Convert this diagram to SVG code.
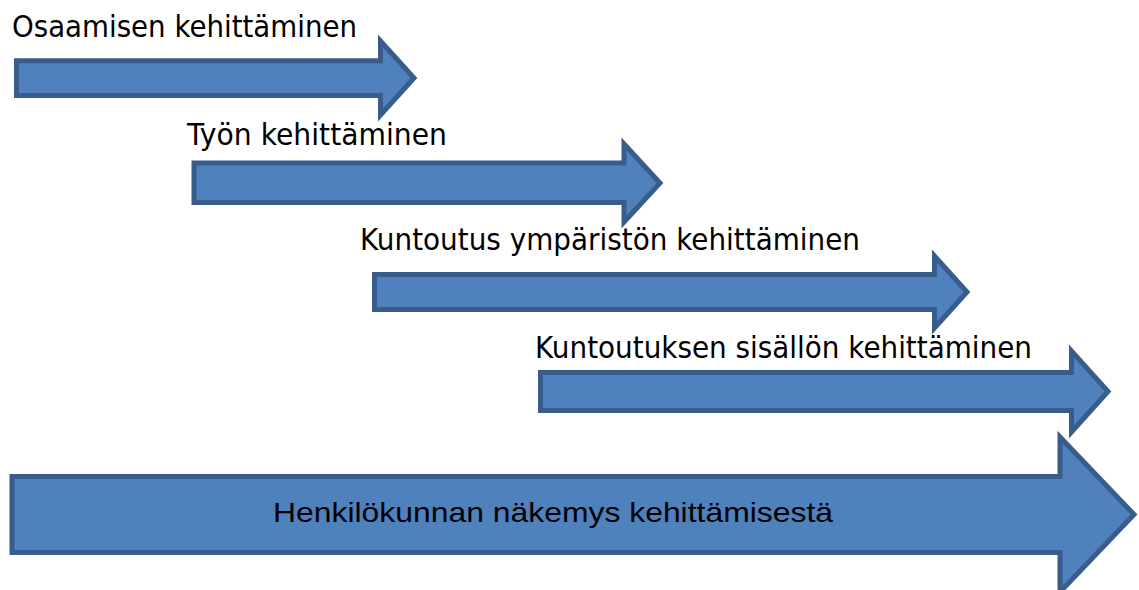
<svg xmlns="http://www.w3.org/2000/svg" width="1139" height="590" viewBox="0 0 1139 590">
<style>
.arrow{fill:#4F81BD;stroke:#385D8A;stroke-width:5;stroke-linejoin:miter;stroke-miterlimit:10}
.lbl{font-family:"DejaVu Sans",Verdana,sans-serif;font-size:30px;fill:#000}
.in{font-family:"Liberation Sans",Arial,sans-serif;font-size:28px;fill:#000}
</style>
<rect width="1139" height="590" fill="#fff"/>
<g id="node-osaaminen"><path class="arrow" d="M16.5,60.8 H380.5 V41 L414,78 L380.5,115 V95.5 H16.5 Z"/><text class="lbl" x="12" y="37" textLength="345" lengthAdjust="spacingAndGlyphs">Osaamisen kehittäminen</text></g>
<g id="node-tyo"><path class="arrow" d="M194,163 H624 V144 L660,183 L624,222 V202.5 H194 Z"/><text class="lbl" x="187" y="145" textLength="260" lengthAdjust="spacingAndGlyphs">Työn kehittäminen</text></g>
<g id="node-ymparisto"><path class="arrow" d="M374.5,274.5 H934.5 V256 L967,292 L934.5,328 V309.5 H374.5 Z"/><text class="lbl" x="360" y="250" textLength="500" lengthAdjust="spacingAndGlyphs">Kuntoutus ympäristön kehittäminen</text></g>
<g id="node-sisalto"><path class="arrow" d="M540.5,372.5 H1071.5 V351 L1108,391.5 L1071.5,432 V410.5 H540.5 Z"/><text class="lbl" x="535" y="358" textLength="497" lengthAdjust="spacingAndGlyphs">Kuntoutuksen sisällön kehittäminen</text></g>
<g id="node-nakemys"><path class="arrow" d="M12,476.5 H1060 V437 L1134,514.5 L1060,592 V552.5 H12 Z"/><text class="in" x="273" y="522" textLength="560" lengthAdjust="spacingAndGlyphs">Henkilökunnan näkemys kehittämisestä</text></g>
<g id="connectors"/>
</svg>
